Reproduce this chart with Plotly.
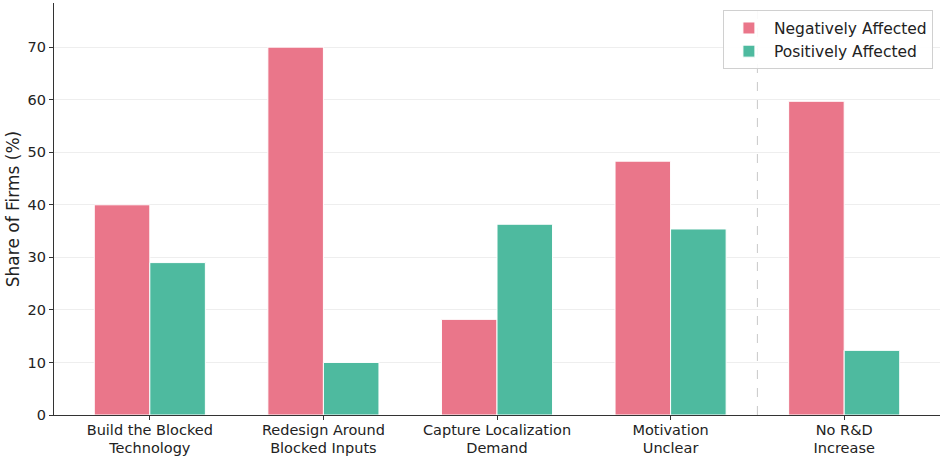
import plotly.graph_objects as go

categories = ["Build the Blocked<br>Technology", "Redesign Around<br>Blocked Inputs",
              "Capture Localization<br>Demand", "Motivation<br>Unclear", "No R&D<br>Increase"]
negatively_affected = [40.0, 70.0, 18.2, 48.3, 59.7]
positively_affected = [29.0, 10.0, 36.3, 35.4, 12.3]
y_ticks = [0, 10, 20, 30, 40, 50, 60, 70]

PINK = "#EA768A"
GREEN = "#4EBA9F"
BW = 0.32

x_idx = list(range(len(categories)))

fig = go.Figure()
fig.add_trace(go.Bar(x=x_idx, y=negatively_affected, name="Negatively Affected",
                     marker=dict(color=PINK, line=dict(color="white", width=1)),
                     width=BW, offset=-BW))
fig.add_trace(go.Bar(x=x_idx, y=positively_affected, name="Positively Affected",
                     marker=dict(color=GREEN, line=dict(color="white", width=1)),
                     width=BW, offset=0))

fig.add_shape(type="line", xref="x", yref="paper", x0=3.5, x1=3.5, y0=0, y1=1,
              line=dict(color="#c8c8c8", width=1, dash="dash"), layer="below")

fig.update_layout(
    width=944, height=458,
    margin=dict(l=54, r=4, t=3, b=43, autoexpand=False),
    plot_bgcolor="white", paper_bgcolor="white",
    barmode="overlay",
    font=dict(family="DejaVu Sans", size=14, color="#222222"),
    showlegend=True,
    legend=dict(x=0.992, y=0.982, xanchor="right", yanchor="top",
                bordercolor="#d0d0d0", borderwidth=1, bgcolor="rgba(255,255,255,0.9)",
                font=dict(size=15.5), itemwidth=40, tracegroupgap=0),
)
fig.update_xaxes(
    tickmode="array", tickvals=x_idx, ticktext=categories,
    range=[-0.552, 4.552], showgrid=False, zeroline=False,
    showline=True, linecolor="#333333", linewidth=1.2,
    ticks="outside", ticklen=4, tickcolor="#333333",
    tickfont=dict(size=14.5), automargin=False, ticklabelstandoff=-3,
)
fig.update_yaxes(
    range=[0, 78.4], tickvals=y_ticks, showgrid=True, gridcolor="#eeeeee", gridwidth=1,
    zeroline=False, showline=True, linecolor="#333333", linewidth=1.2,
    ticks="outside", ticklen=4, tickcolor="#333333",
    tickfont=dict(size=14.5), automargin=False,
    title=dict(text="Share of Firms (%)", font=dict(size=17), standoff=3),
)

fig.write_html("out.html", config={"displayModeBar": False},
               post_script="document.body.style.margin='0';")
